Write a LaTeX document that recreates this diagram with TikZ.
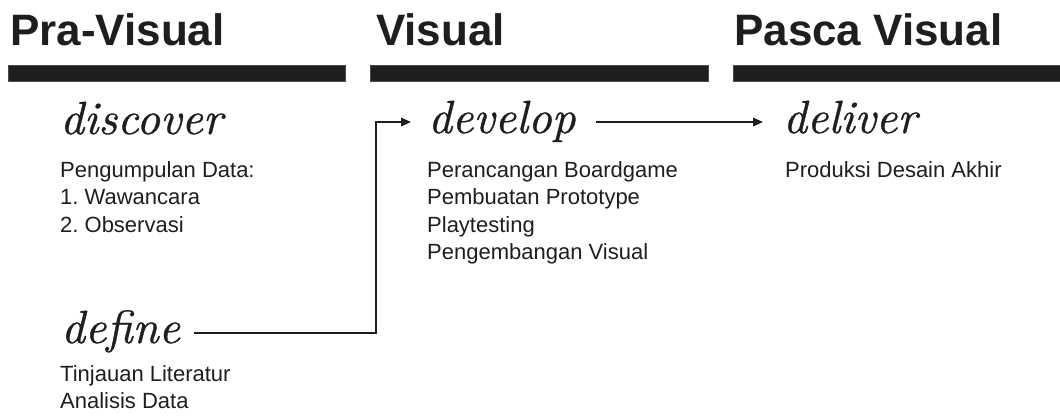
\documentclass[tikz,border=0pt]{standalone}
\usepackage{fontspec}
\usetikzlibrary{arrows.meta}
\frenchspacing
\newfontfamily\headfont{Liberation Sans}
\newfontfamily\bodyfont{Liberation Sans}
\newfontfamily\stagefont{lmroman10-italic}[Extension=.otf, FakeBold=0.7]
\definecolor{ink}{HTML}{1E1E1E}
\newcommand{\lines}[1]{\begin{tabular}[t]{@{}l@{}}#1\end{tabular}}
\tikzset{
  phase/.style={anchor=base west, inner sep=0pt, text=ink,
    font=\headfont\bfseries\fontsize{44}{44}\selectfont},
  bar/.style={fill=ink, draw=ink!80, line width=0.6pt},
  stage/.style={anchor=base west, inner sep=0pt, text=ink,
    font=\stagefont\fontsize{46.5}{47}\selectfont},
  notes/.style={anchor=base west, inner sep=0pt, text=ink,
    font=\bodyfont\fontsize{22}{27.6}\selectfont},
  link/.style={draw=ink, line width=1.8pt,
    -{Triangle[length=10pt,width=8.5pt]}},
}
\begin{document}
\begin{tikzpicture}[x=1pt, y=-1pt]
  \useasboundingbox (0,0) rectangle (1060,418);

  % phase headings and bars
  \node[phase] (hpra) at (10,45) {Pra-Visual};
  \node[phase] (hvis) at (376,45) {Visual};
  \node[phase] (hpas) at (734,45) {Pasca Visual};
  \fill[bar] (8,65) rectangle (345,81);
  \fill[bar] (370,65) rectangle (708,81);
  \fill[bar] (733,65) rectangle (1060,81);

  % stages
  \node[stage] (discover) at (60,134) {discover};
  \node[stage] (develop) at (428,133) {develop};
  \node[stage] (deliver) at (783,133) {deliver};
  \node[stage] (define) at (61,343) {define};

  % notes under each stage
  \node[notes] (ndiscover) at (60,177) {\lines{Pengumpulan Data:\\1. Wawancara\\2. Observasi}};
  \node[notes] (ndevelop) at (427,177) {\lines{Perancangan Boardgame\\Pembuatan Prototype\\Playtesting\\Pengembangan Visual}};
  \node[notes] (ndeliver) at (785,177) {Produksi Desain Akhir};
  \node[notes] (ndefine) at (60,381) {\lines{Tinjauan Literatur\\Analisis Data}};

  % connectors, drawn at half x-height of the stage words
  \draw[link] ([xshift=14pt,yshift=10pt]define.base east)
    -| ([xshift=-52pt,yshift=11pt]develop.base west)
    -- ([xshift=-17pt,yshift=11pt]develop.base west);
  \draw[link] ([xshift=20pt,yshift=11pt]develop.base east)
    -- ([xshift=-20pt,yshift=11pt]deliver.base west);
\end{tikzpicture}
\end{document}
